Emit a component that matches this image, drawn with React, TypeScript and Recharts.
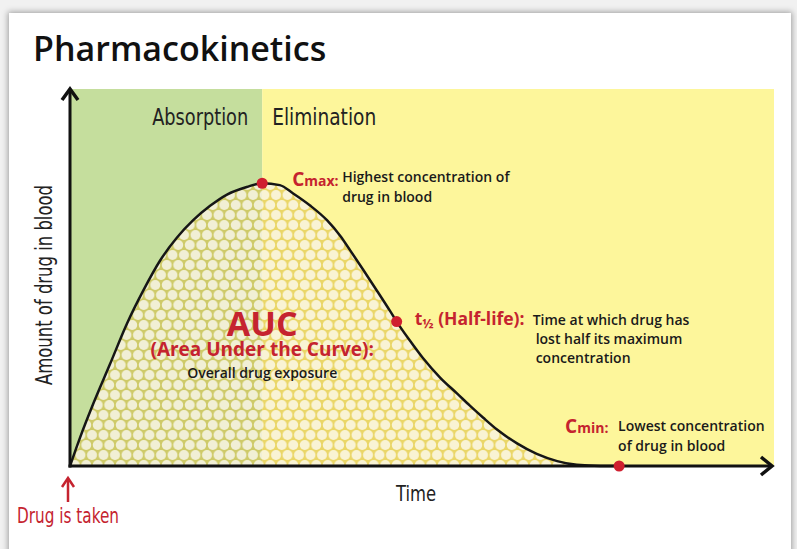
import React from 'react';
import {
  ComposedChart,
  Area,
  XAxis,
  YAxis,
  ReferenceArea,
  ReferenceLine,
  ReferenceDot,
} from 'recharts';

// ---- data (time in arbitrary units, amount of drug in arbitrary units) ----
const timePoints = [
  0, 1.4, 3.3, 5.7, 8.1, 10.4, 12.8, 15.2, 17.5, 19.9, 22.3, 25.1, 27.3, 29.8, 31.7, 34.1, 36.5, 38.4,
  39.8, 41.6, 43.6, 45.5, 46.4, 48.3, 50.1, 52.6, 55.0, 56.8, 58.7, 60.7, 63.5, 66.3, 69.2, 72.0, 75.3, 78.0,
];
const drugAmount = [
  0, 7.4, 16.5, 27.1, 37.8, 46.5, 54.5, 60.6, 65.2, 69.0, 72.0, 74.0, 75.0, 74.5, 72.3, 69.1, 65.2, 61.0,
  57.2, 52.2, 46.5, 41.0, 38.3, 33.2, 28.7, 23.4, 19.2, 16.0, 12.8, 9.6, 6.0, 3.2, 1.3, 0.3, 0, 0,
];
const phaseBounds = [0, 27.3, 100];
const phaseNames = ['Absorption', 'Elimination'];
const cmax = { t: 27.3, c: 75.0 };
const halfLife = { t: 46.4, c: 38.3 };
const cmin = { t: 78.0, c: 0 };
const aucAnchor = { t: 27.3, c: 34 };

const curve = timePoints.map((t, i) => ({ t, c: drugAmount[i] }));

const RED = '#c5232f';
const DOT = '#cf1f2f';
const INK = '#1a1a1a';
const SANS = "'Open Sans', 'Noto Sans', sans-serif";
const COND = "'Liberation Sans Narrow', 'DejaVu Sans Condensed', 'DejaVu Sans', sans-serif";

const center = (vb: any) => ({ x: vb.x + vb.width / 2, y: vb.y + vb.height / 2 });

const AbsorptionLabel = (p: any) => {
  const vb = p.viewBox;
  return (
    <text x={vb.x + vb.width - 14} y={vb.y + 36} textAnchor="end" fontFamily={COND} fontSize={23}
      fill="#222" textLength={96} lengthAdjust="spacingAndGlyphs">{phaseNames[0]}</text>
  );
};
const EliminationLabel = (p: any) => {
  const vb = p.viewBox;
  return (
    <text x={vb.x + 10} y={vb.y + 36} fontFamily={COND} fontSize={23}
      fill="#222" textLength={104} lengthAdjust="spacingAndGlyphs">{phaseNames[1]}</text>
  );
};

const CmaxLabel = (p: any) => {
  const { x, y } = center(p.viewBox);
  return (
    <g>
      <text x={x + 30} y={y + 3} fill={RED} fontFamily={SANS} fontWeight={700}>
        <tspan fontSize={19}>C</tspan>
        <tspan fontSize={14}>max:</tspan>
      </text>
      <text x={x + 80} y={y - 1} fill={INK} fontFamily={SANS} fontWeight={600} fontSize={14}>Highest concentration of</text>
      <text x={x + 80} y={y + 19} fill={INK} fontFamily={SANS} fontWeight={600} fontSize={14}>drug in blood</text>
    </g>
  );
};

const HalfLifeLabel = (p: any) => {
  const { x, y } = center(p.viewBox);
  return (
    <g>
      <text x={x + 18} y={y + 3} fill={RED} fontFamily={SANS} fontWeight={700}>
        <tspan fontSize={17.5}>t</tspan>
        <tspan fontSize={13} dy={3}>½</tspan>
        <tspan fontSize={17.5} dy={-3}> (Half-life):</tspan>
      </text>
      <text x={x + 136} y={y + 3} fill={INK} fontFamily={SANS} fontWeight={600} fontSize={14}>Time at which drug has</text>
      <text x={x + 139} y={y + 22} fill={INK} fontFamily={SANS} fontWeight={600} fontSize={14}>lost half its maximum</text>
      <text x={x + 139} y={y + 41} fill={INK} fontFamily={SANS} fontWeight={600} fontSize={14}>concentration</text>
    </g>
  );
};

const CminLabel = (p: any) => {
  const { x, y } = center(p.viewBox);
  return (
    <g>
      <text x={x - 54} y={y - 33} fill={RED} fontFamily={SANS} fontWeight={700}>
        <tspan fontSize={19}>C</tspan>
        <tspan fontSize={14}>min:</tspan>
      </text>
      <text x={x - 1} y={y - 35} fill={INK} fontFamily={SANS} fontWeight={600} fontSize={14}>Lowest concentration</text>
      <text x={x - 1} y={y - 15} fill={INK} fontFamily={SANS} fontWeight={600} fontSize={14}>of drug in blood</text>
    </g>
  );
};

const AucLabel = (p: any) => {
  const { x, y } = center(p.viewBox);
  return (
    <g>
      <text x={x} y={y - 2} textAnchor="middle" fill={RED} fontFamily={SANS} fontWeight={700}>
        <tspan x={x} fontSize={34}>AUC</tspan>
        <tspan x={x} dy={20} fontSize={19}>(Area Under the Curve):</tspan>
      </text>
      <text x={x} y={y + 40} textAnchor="middle" fill={INK} fontFamily={SANS} fontWeight={600} fontSize={14}>Overall drug exposure</text>
    </g>
  );
};

const DrugTakenLabel = (p: any) => {
  const { x, y } = center(p.viewBox);
  return (
    <g>
      <line x1={x - 2} y1={y + 14} x2={x - 2} y2={y + 36} stroke={RED} strokeWidth={2.5} />
      <path d={`M${x - 8},${y + 21} L${x - 2},${y + 12} L${x + 4},${y + 21}`} fill="none" stroke={RED} strokeWidth={2.5} />
      <text x={x - 53} y={y + 57} fontFamily={COND} fontSize={22} fill={RED}
        textLength={102} lengthAdjust="spacingAndGlyphs">Drug is taken</text>
    </g>
  );
};

const VerticalAxisShape = (p: any) => {
  const x = p.x1;
  const top = Math.min(p.y1, p.y2);
  const bottom = Math.max(p.y1, p.y2);
  return (
    <g>
      <line x1={x} y1={top + 2} x2={x} y2={bottom + 1.5} stroke="#111" strokeWidth={3} />
      <path d={`M${x - 8},${top + 11} L${x},${top} L${x + 8},${top + 11}`} fill="none" stroke="#111" strokeWidth={3.5} />
    </g>
  );
};

const HorizontalAxisShape = (p: any) => {
  const y = p.y1;
  const left = Math.min(p.x1, p.x2);
  const right = Math.max(p.x1, p.x2);
  return (
    <g>
      <line x1={left - 1.5} y1={y} x2={right - 3} y2={y} stroke="#111" strokeWidth={3} />
      <path d={`M${right - 13},${y - 9} L${right - 2},${y} L${right - 13},${y + 9}`} fill="none" stroke="#111" strokeWidth={3.5} />
    </g>
  );
};

export default function App() {
  return (
    <div style={{ position: 'absolute', left: 0, top: 0, width: 797, height: 549, background: '#f1f1f1', overflow: 'hidden' }}>
      <div style={{ position: 'absolute', left: 9, top: 13, width: 782, height: 560, background: '#ffffff', boxShadow: '0 0 6px 1px rgba(0,0,0,0.35)' }} />
      <div style={{ position: 'absolute', left: 0, top: 0 }}>
        <ComposedChart width={797} height={549} data={curve} margin={{ top: 89, right: 23, bottom: 83, left: 70 }}>
          <defs>
            <pattern id="aucPattern" patternUnits="userSpaceOnUse" width={11.5} height={20}>
              <rect x={0} y={0} width={11.5} height={20} fill="#d8b633" fillOpacity={0.5} />
              <circle cx={5.75} cy={5} r={5} fill="#ffffff" fillOpacity={0.72} />
              <circle cx={0} cy={15} r={5} fill="#ffffff" fillOpacity={0.72} />
              <circle cx={11.5} cy={15} r={5} fill="#ffffff" fillOpacity={0.72} />
            </pattern>
          </defs>
          <text x={33} y={61} fontFamily={SANS} fontWeight={600} fontSize={34} fill="#111">Pharmacokinetics</text>
          <text x={416} y={501} textAnchor="middle" fontFamily={COND} fontSize={21} fill="#222"
            textLength={40} lengthAdjust="spacingAndGlyphs">Time</text>
          <text x={52} y={285} textAnchor="middle" transform="rotate(-90, 52, 285)" fontFamily={COND} fontSize={23}
            fill="#222" textLength={200} lengthAdjust="spacingAndGlyphs">Amount of drug in blood</text>
          <XAxis type="number" dataKey="t" domain={[0, 100]} hide />
          <YAxis type="number" domain={[0, 100]} hide />
          <ReferenceArea x1={phaseBounds[0]} x2={phaseBounds[1]} y1={0} y2={100} fill="#c5de9d" fillOpacity={1}
            stroke="none" zIndex={-100} label={AbsorptionLabel} />
          <ReferenceArea x1={phaseBounds[1]} x2={phaseBounds[2]} y1={0} y2={100} fill="#fdf69b" fillOpacity={1}
            stroke="none" zIndex={-100} label={EliminationLabel} />
          <Area type="monotone" dataKey="c" stroke="#161616" strokeWidth={2.5} fill="url(#aucPattern)" fillOpacity={1}
            dot={false} activeDot={false} isAnimationActive={false} />
          <ReferenceLine x={0} shape={VerticalAxisShape} zIndex={500} />
          <ReferenceLine y={0} shape={HorizontalAxisShape} zIndex={500} />
          <ReferenceDot x={aucAnchor.t} y={aucAnchor.c} r={0.5} fill="none" stroke="none" zIndex={1500} label={AucLabel} />
          <ReferenceDot x={0} y={0} r={0.5} fill="none" stroke="none" zIndex={1500} label={DrugTakenLabel} />
          <ReferenceDot x={cmax.t} y={cmax.c} r={5.5} fill={DOT} stroke="none" zIndex={1500} label={CmaxLabel} />
          <ReferenceDot x={halfLife.t} y={halfLife.c} r={5.5} fill={DOT} stroke="none" zIndex={1500} label={HalfLifeLabel} />
          <ReferenceDot x={cmin.t} y={cmin.c} r={5.5} fill={DOT} stroke="none" zIndex={1500} label={CminLabel} />
        </ComposedChart>
      </div>
    </div>
  );
}
